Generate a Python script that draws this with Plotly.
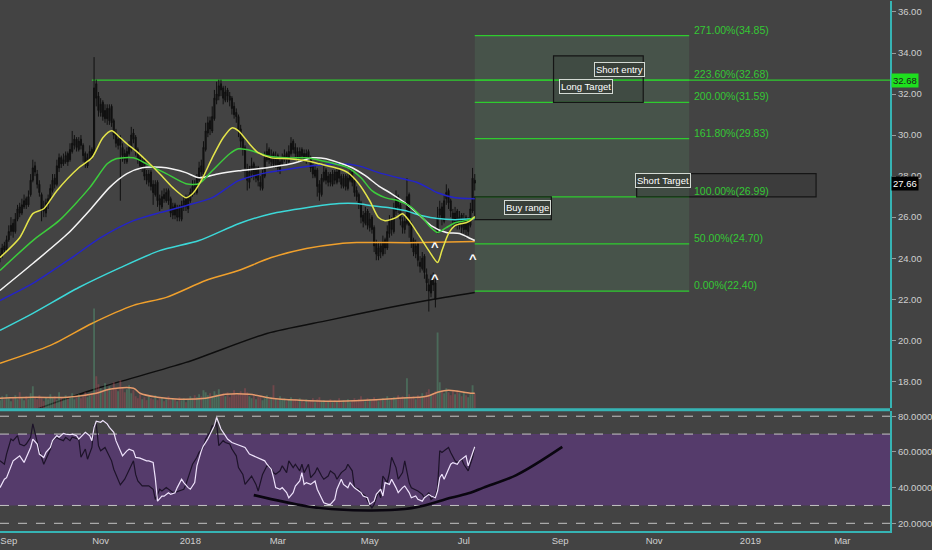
import pandas as pd
import plotly.graph_objects as go

# ---------------- data ----------------
HOLIDAYS = ["2017-09-04", "2017-11-23", "2017-12-25", "2018-01-01", "2018-01-15",
            "2018-02-19", "2018-03-30", "2018-05-28", "2018-07-04"]

OPEN = [
    24.0, 24.2, 24.6, 24.4, 24.9,
    25.3, 25.7, 25.3,
    25.9, 26.5, 26.2,
    26.5, 26.9, 26.6,
    27.1, 27.8, 28.5,
    28.1, 27.6, 27.1,
    26.5, 26.2, 26.6,
    26.9, 27.3, 27.9,
    27.6, 28.4, 28.9,
    28.6, 28.7, 29.1,
    28.8, 29.2, 29.5,
    29.8, 29.3, 29.8,
    29.5, 29.1, 28.5,
    28.9, 29.3,
    29.1,
    32.5, 31.9,
    31.1, 31.6, 30.8,
    31.3, 30.7, 31.4,
    30.7, 30.1,
    29.5, 29.9, 29.4,
    29.1, 28.7, 29.1,
    29.3, 30.1, 29.9,
    29.3, 28.9, 28.4,
    28.8, 28.1, 27.7,
    28.2, 27.6, 27.1,
    27.7, 26.9, 26.5,
    27.1, 26.8, 27.3,
    26.9, 26.1, 26.6,
    26.0, 26.5, 25.9,
    26.5, 26.9, 26.4,
    26.8, 27.1, 27.6,
    27.2, 27.8, 28.5,
    28.1, 29.3, 30.1,
    30.7, 30.2,
    30.8, 31.7,
    31.9, 32.5, 32.3,
    31.7, 32.2, 31.9,
    31.8, 31.4, 31.1,
    30.9, 30.3, 29.8,
    29.4, 28.3, 27.7,
    28.1, 28.6, 27.9,
    28.4, 27.7, 27.4,
    28.0, 28.8, 29.3,
    28.7, 29.1, 28.5,
    29.0, 28.3, 28.6,
    28.8, 29.1, 28.7,
    29.1, 29.7, 29.4,
    29.2, 28.8, 29.3,
    29.1, 28.7, 29.2,
    28.9, 28.5, 28.0,
    28.3, 27.6,
    27.1, 27.8, 28.3,
    27.7, 28.1, 27.6,
    28.2, 27.7, 28.3,
    28.0, 27.5, 28.0,
    27.4, 27.8, 28.2,
    27.8, 27.3, 27.1,
    26.7, 26.1, 25.7,
    26.3, 25.5, 26.0,
    25.5, 24.7, 24.1,
    24.6, 24.2, 24.9,
    24.5, 25.2, 25.9,
    25.3, 26.3, 27.0,
    26.6, 25.8, 25.4,
    25.7, 27.1,
    25.7, 24.9, 24.2,
    24.7, 23.8, 23.5,
    24.1, 23.2, 22.7,
    22.3, 23.0,
    22.8,
    25.3, 26.1, 26.5,
    25.8, 26.9, 27.3,
    26.8, 26.2, 25.7,
    26.3, 25.6, 26.1,
    25.4, 26.0, 25.3,
    25.6, 26.3, 27.8,
]

HIGH = [
    24.5, 24.7, 24.8, 25.1, 25.6,
    26.0, 25.9, 26.2,
    26.6, 26.7, 26.9,
    27.1, 27.0, 27.3,
    28.1, 28.8, 28.7,
    28.3, 27.8, 27.2,
    26.8, 26.9, 27.1,
    27.6, 28.1, 28.1,
    28.8, 29.1, 29.0,
    29.1, 29.2, 29.2,
    29.6, 30.2, 30.0,
    29.9, 29.9, 30.0,
    29.6, 29.2, 29.1,
    29.5, 29.4,
    33.8,
    32.7, 32.1,
    31.8, 31.7, 31.5,
    31.5, 31.5, 31.5,
    30.8, 30.3,
    30.0, 30.0, 29.6,
    29.3, 29.4, 29.7,
    30.4, 30.3, 30.0,
    29.4, 29.1, 28.9,
    28.9, 28.3, 28.3,
    28.3, 27.8, 27.8,
    27.8, 27.1, 27.3,
    27.4, 27.4, 27.4,
    27.0, 26.7, 26.7,
    26.6, 26.6, 26.8,
    27.0, 27.1, 27.1,
    27.4, 27.8, 27.8,
    28.1, 28.7, 28.8,
    29.7, 30.6, 30.9,
    30.9, 31.4,
    32.2, 32.6,
    32.7, 32.7, 32.4,
    32.4, 32.3, 32.1,
    31.9, 31.6, 31.3,
    31.0, 30.5, 30.0,
    29.5, 28.6, 28.5,
    28.9, 28.7, 28.5,
    28.5, 28.0, 28.3,
    29.2, 29.6, 29.4,
    29.3, 29.2, 29.2,
    29.1, 28.9, 29.1,
    29.3, 29.2, 29.5,
    29.9, 29.8, 29.6,
    29.4, 29.4, 29.4,
    29.3, 29.3, 29.3,
    29.0, 28.6, 28.5,
    28.4, 27.8,
    28.1, 28.5, 28.4,
    28.2, 28.2, 28.3,
    28.3, 28.4, 28.4,
    28.1, 28.1, 28.1,
    28.1, 28.4, 28.3,
    27.9, 27.5, 27.2,
    26.8, 26.3, 26.5,
    26.4, 26.2, 26.1,
    25.6, 24.9, 24.8,
    24.8, 25.1, 25.0,
    25.6, 26.1, 26.0,
    26.7, 27.3, 27.1,
    26.7, 26.0, 26.1,
    27.9, 27.2,
    25.8, 25.0, 24.9,
    24.8, 24.1, 24.3,
    24.2, 23.5, 23.0,
    23.2, 23.3,
    23.0,
    26.5, 26.8, 26.7,
    27.1, 27.6, 27.4,
    26.9, 26.4, 26.5,
    26.4, 26.3, 26.2,
    26.2, 26.1, 26.0,
    26.7, 28.4, 28.1,
]

LOW = [
    23.8, 24.0, 24.2, 24.3, 24.8,
    25.1, 25.0, 25.2,
    25.8, 26.0, 26.1,
    26.4, 26.4, 26.5,
    27.0, 27.7, 28.0,
    27.4, 27.0, 25.8,
    26.0, 26.0, 26.4,
    26.8, 27.2, 27.4,
    27.5, 28.2, 28.4,
    28.5, 28.6, 28.5,
    28.7, 29.1, 29.3,
    29.2, 29.2, 29.3,
    28.7, 28.4, 28.4,
    28.8, 28.8,
    29.0,
    31.4, 30.9,
    30.9, 30.7, 30.6,
    30.5, 30.5, 30.4,
    29.8, 29.4,
    29.3, 26.8, 28.7,
    28.6, 28.6, 29.0,
    29.2, 29.6, 29.0,
    28.6, 28.3, 28.2,
    27.8, 27.6, 27.5,
    27.3, 26.6, 27.0,
    26.5, 26.3, 26.4,
    26.7, 26.7, 26.6,
    26.0, 25.9, 25.9,
    25.8, 25.8, 25.8,
    26.3, 26.3, 26.2,
    26.7, 27.0, 27.1,
    27.1, 27.7, 28.0,
    28.0, 29.2, 29.9,
    30.0, 30.1,
    30.7, 31.5,
    31.7, 31.9, 31.5,
    31.6, 31.6, 31.4,
    31.0, 30.8, 30.6,
    29.9, 29.4, 29.0,
    27.9, 27.3, 27.4,
    27.9, 27.8, 27.7,
    27.5, 27.3, 27.3,
    27.9, 28.7, 28.6,
    28.5, 28.4, 28.4,
    28.2, 28.1, 28.5,
    28.7, 28.6, 28.6,
    29.0, 29.1, 28.9,
    28.7, 28.7, 28.8,
    28.7, 28.6, 28.7,
    28.2, 27.9, 27.9,
    27.0, 26.8,
    27.0, 27.7, 27.6,
    27.5, 27.5, 27.5,
    27.6, 27.6, 27.7,
    27.4, 27.4, 27.3,
    27.3, 27.7, 27.5,
    27.0, 26.8, 26.4,
    25.7, 25.5, 25.6,
    25.4, 25.3, 25.2,
    24.3, 23.9, 23.9,
    24.0, 24.1, 24.2,
    24.4, 25.0, 25.1,
    25.2, 26.1, 26.2,
    25.6, 25.2, 25.2,
    25.6, 25.0,
    24.5, 24.1, 24.0,
    23.6, 23.3, 23.4,
    23.0, 22.4, 21.4,
    22.1, 22.4,
    21.6,
    25.2, 25.9, 25.6,
    25.7, 26.6, 26.4,
    26.0, 25.5, 25.5,
    25.4, 25.4, 25.2,
    25.2, 25.0, 25.1,
    25.5, 26.2, 27.3,
]

CLOSE = [
    24.2, 24.5, 24.4, 24.9, 25.3,
    25.6, 25.3, 25.9,
    26.4, 26.2, 26.6,
    26.8, 26.6, 27.0,
    27.8, 28.4, 28.2,
    27.6, 27.2, 26.4,
    26.3, 26.7, 26.9,
    27.4, 27.8, 27.6,
    28.5, 28.9, 28.6,
    28.8, 29.0, 28.7,
    29.3, 29.6, 29.8,
    29.4, 29.7, 29.5,
    29.0, 28.6, 28.9,
    29.2, 29.0,
    32.3,
    31.8, 31.2,
    31.5, 30.9, 31.2,
    30.8, 31.3, 30.6,
    30.0, 29.6,
    29.8, 29.5, 29.0,
    28.8, 29.2, 29.4,
    30.0, 29.8, 29.2,
    28.8, 28.5, 28.7,
    28.0, 27.8, 28.1,
    27.5, 27.2, 27.6,
    26.8, 26.6, 27.0,
    26.9, 27.2, 26.8,
    26.2, 26.5, 26.1,
    26.4, 26.0, 26.6,
    26.8, 26.5, 26.9,
    27.2, 27.5, 27.3,
    27.9, 28.4, 28.2,
    29.4, 30.2, 30.6,
    30.3, 30.9,
    31.8, 32.0,
    32.4, 32.2, 31.8,
    32.1, 31.9, 31.7,
    31.3, 31.0, 30.9,
    30.2, 29.7, 29.3,
    28.4, 27.8, 28.2,
    28.5, 28.0, 28.3,
    27.8, 27.5, 28.1,
    28.9, 29.2, 28.8,
    29.0, 28.6, 28.9,
    28.4, 28.7, 28.9,
    29.0, 28.8, 29.2,
    29.6, 29.3, 29.1,
    28.9, 29.2, 29.0,
    28.8, 29.1, 28.9,
    28.4, 28.1, 28.3,
    27.5, 27.2,
    27.9, 28.2, 27.8,
    28.0, 27.7, 28.1,
    27.8, 28.2, 27.9,
    27.6, 27.9, 27.5,
    27.9, 28.1, 27.7,
    27.2, 27.0, 26.6,
    26.0, 25.8, 26.2,
    25.6, 25.9, 25.4,
    24.6, 24.2, 24.5,
    24.3, 24.8, 24.5,
    25.3, 25.8, 25.4,
    26.4, 26.9, 26.5,
    25.9, 25.5, 25.8,
    27.0, 25.6,
    24.8, 24.3, 24.6,
    23.9, 23.6, 24.0,
    23.3, 22.8, 22.4,
    22.9, 22.7,
    22.0,
    26.0, 26.4, 25.9,
    26.8, 27.2, 26.7,
    26.3, 25.8, 26.2,
    25.7, 26.0, 25.5,
    25.9, 25.4, 25.7,
    26.4, 27.9, 27.66,
]

VOLUME = [
    0.8, 1.2, 0.9, 1.4, 1.0, 0.7, 1.1, 1.3, 0.9, 1.6,
    1.0, 0.8, 1.2, 0.9, 1.5, 2.2, 1.1, 0.9, 1.3, 1.0,
    0.7, 1.1, 0.9, 1.4, 1.0, 1.2, 0.8, 1.6, 1.1, 0.9,
    1.3, 1.0, 1.2, 1.5, 0.9, 1.1, 1.4, 1.0, 1.2, 1.6,
    1.1, 1.3, 1.5, 10.0, 3.2, 2.4, 2.0, 1.7, 2.5, 1.9,
    2.2, 1.8, 2.6, 2.0, 1.7, 2.8, 2.1, 1.6, 1.9, 2.3,
    1.5, 1.8, 1.2, 1.0, 1.4, 0.9, 1.1, 0.8, 1.2, 1.0,
    0.9, 1.3, 0.8, 1.0, 1.1, 0.7, 0.9, 1.2, 0.8, 1.0,
    0.9, 0.7, 1.1, 0.8, 1.0, 0.6, 0.9, 1.2, 1.0, 1.3,
    1.1, 1.4, 1.2, 1.8, 1.6, 1.3, 1.5, 1.2, 1.7, 1.4,
    1.9, 1.3, 1.5, 1.2, 1.6, 1.1, 1.4, 1.8, 1.3, 1.5,
    1.7, 1.4, 2.0, 1.6, 1.2, 1.0, 1.3, 0.9, 1.1, 1.2,
    0.8, 1.0, 1.3, 0.9, 1.1, 2.3, 1.0, 0.8, 1.2, 0.9,
    1.0, 0.7, 0.9, 1.1, 0.8, 0.9, 0.7, 1.0, 0.8, 0.6,
    0.9, 0.7, 0.8, 1.0, 0.6, 0.9, 1.1, 0.7, 0.8, 0.6,
    0.7, 0.9, 0.6, 0.8, 0.7, 1.0, 0.6, 0.8, 0.7, 0.9,
    0.6, 0.8, 1.0, 0.7, 0.9, 1.2, 0.8, 0.7, 1.0, 0.9,
    0.8, 1.1, 0.9, 0.7, 0.8, 1.0, 0.9, 1.2, 0.8, 1.0,
    1.1, 0.9, 1.3, 1.0, 1.2, 1.1, 3.0, 1.4, 1.0, 1.2,
    0.9, 1.3, 1.1, 1.5, 1.2, 1.6, 1.9, 1.3, 1.4, 1.7,
    7.6, 2.6, 1.8, 1.5, 2.0, 1.6, 1.3, 1.7, 1.4, 1.8,
    1.5, 1.2, 1.6, 1.3, 1.1, 1.4, 2.3, 1.5,
]

# moving averages: (bar index, value)
VOL_MA = [(0, 1.0), (15, 1.1), (31, 1.1), (44, 1.5), (50, 1.9), (61, 2.0), (64, 1.5), (72, 1.1),
          (82, 0.9), (94, 1.0), (103, 1.4), (114, 1.4), (124, 1.0), (137, 0.8), (152, 0.7),
          (167, 0.8), (182, 1.0), (195, 1.2), (200, 1.6), (205, 1.8), (215, 1.5), (217, 1.5)]
MA_YELLOW = [(0, 24.03), (9, 25.00), (15, 26.17), (20, 26.41), (26, 27.29), (36, 28.41), (42, 28.89),
             (47, 29.87), (51, 30.21), (55, 29.87), (58, 29.58), (62, 29.24), (67, 28.75), (73, 28.12),
             (79, 27.44), (85, 26.95), (88, 27.14), (92, 27.78), (97, 28.89), (102, 29.87), (106, 30.35),
             (109, 30.21), (114, 29.58), (118, 29.14), (124, 28.89), (132, 28.85), (140, 28.75),
             (146, 28.60), (155, 28.36), (159, 28.17), (164, 27.63), (169, 26.80), (173, 25.98),
             (176, 25.83), (181, 25.98), (184, 26.17), (187, 25.83), (191, 25.20), (196, 24.37),
             (200, 23.79), (202, 24.37), (205, 25.20), (208, 25.59), (213, 25.73), (215, 25.83), (217, 26.03)]
MA_GREEN = [(0, 23.40), (15, 24.86), (27, 25.83), (41, 27.44), (49, 28.60), (53, 28.85), (61, 28.89),
            (67, 28.60), (76, 28.12), (85, 27.63), (91, 27.63), (97, 28.26), (105, 29.09), (109, 29.33),
            (115, 29.24), (122, 28.99), (131, 28.89), (140, 28.89), (147, 28.75), (159, 28.41),
            (165, 27.92), (170, 27.29), (176, 26.95), (182, 26.80), (187, 26.56), (193, 25.98),
            (197, 25.49), (200, 25.25), (204, 25.49), (208, 25.73), (213, 25.83), (217, 25.98)]
MA_WHITE = [(0, 22.43), (15, 23.74), (31, 25.20), (42, 26.46), (50, 27.44), (58, 28.12), (65, 28.41),
            (76, 28.41), (85, 28.17), (91, 27.92), (100, 28.12), (109, 28.26), (122, 28.41), (133, 28.60),
            (143, 28.89), (149, 28.85), (155, 28.65), (161, 28.41), (167, 28.02), (173, 27.53),
            (179, 27.14), (185, 26.71), (191, 26.17), (197, 25.59), (204, 25.25), (210, 25.20),
            (215, 24.96), (217, 24.86)]
MA_BLUE = [(0, 21.94), (15, 22.77), (31, 23.89), (46, 25.00), (61, 25.83), (73, 26.22), (85, 26.56),
           (97, 26.95), (109, 27.78), (122, 28.17), (133, 28.36), (143, 28.50), (155, 28.60), (164, 28.50),
           (173, 28.17), (182, 27.92), (191, 27.68), (200, 27.19), (208, 26.95), (217, 26.90)]
MA_CYAN = [(0, 20.48), (15, 21.31), (36, 22.57), (55, 23.54), (73, 24.37), (91, 24.86), (109, 25.68),
           (124, 26.17), (140, 26.46), (155, 26.66), (163, 26.66), (170, 26.56), (178, 26.46),
           (185, 26.32), (193, 26.07), (200, 25.93), (208, 25.88), (217, 25.93)]
MA_ORANGE = [(0, 18.88), (23, 19.75), (42, 20.82), (61, 21.70), (76, 22.09), (94, 22.91), (109, 23.40),
             (124, 24.03), (140, 24.47), (155, 24.71), (163, 24.76), (178, 24.76), (193, 24.76), (217, 24.81)]
MA_BLACK = [(12, 16.45), (18, 16.69), (46, 17.71), (85, 18.92), (122, 20.33), (150, 20.97),
            (178, 21.60), (195, 21.94), (217, 22.33)]

RSI_WHITE = [(0, 40.0), (2, 44.7), (3, 45.6), (5, 52.2), (6, 55.0), (8, 56.9), (9, 57.8), (11, 54.1),
             (12, 56.9), (14, 62.5), (15, 67.2), (17, 64.4), (18, 58.8), (20, 56.9), (21, 59.7), (23, 62.5),
             (24, 66.3), (26, 69.1), (27, 68.2), (29, 70.4), (30, 70.0), (32, 69.7), (33, 70.0), (35, 69.1),
             (36, 67.2), (38, 70.0), (39, 71.0), (41, 69.1), (42, 66.3), (43, 73.7), (44, 77.2), (46, 76.6),
             (47, 77.6), (49, 75.7), (50, 73.8), (52, 71.0), (53, 66.3), (55, 60.6), (56, 57.8), (58, 60.6),
             (59, 61.5), (61, 60.6), (62, 56.9), (64, 56.5), (65, 56.0), (67, 55.0), (68, 55.0), (70, 54.1),
             (71, 45.0), (72, 32.4), (74, 35.2), (75, 35.2), (77, 37.1), (78, 36.2), (80, 37.1), (81, 40.0),
             (83, 44.7), (84, 42.8), (86, 40.0), (87, 39.1), (89, 42.8), (90, 52.2), (92, 60.6), (93, 63.4),
             (95, 67.2), (96, 70.0), (98, 74.7), (99, 79.4), (101, 72.8), (103, 69.1), (104, 67.2),
             (106, 65.3), (109, 64.0), (112, 62.5), (114, 58.8), (116, 57.8), (118, 56.9), (121, 55.0),
             (122, 53.1), (124, 50.3), (125, 45.6), (126, 40.0), (128, 39.1), (129, 40.0), (131, 37.2),
             (132, 34.3), (134, 37.2), (135, 40.9), (137, 43.7), (138, 48.4), (139, 41.8), (140, 42.8),
             (142, 41.8), (144, 43.7), (145, 39.1), (147, 34.3), (148, 31.5), (150, 30.6), (151, 30.6),
             (153, 33.4), (154, 39.1), (156, 44.7), (157, 41.8), (159, 39.9), (160, 42.8), (162, 39.9),
             (163, 39.1), (165, 37.2), (166, 35.3), (168, 34.3), (169, 30.6), (171, 32.4), (172, 36.2),
             (174, 39.1), (175, 35.3), (176, 42.8), (178, 41.8), (179, 44.7), (181, 40.0), (182, 37.2),
             (184, 40.0), (185, 40.9), (187, 37.2), (188, 34.3), (190, 35.3), (191, 33.4), (193, 32.4),
             (194, 34.3), (196, 36.2), (197, 35.3), (199, 34.3), (200, 38.1), (201, 45.6), (202, 47.5),
             (203, 44.7), (205, 50.3), (206, 53.1), (207, 54.0), (209, 53.1), (210, 55.0), (212, 56.9),
             (213, 57.8), (214, 52.2), (216, 58.8), (217, 62.9)]
RSI_DARK = [(0, 55.0), (2, 53.1), (3, 58.8), (5, 67.2), (6, 66.3), (8, 69.1), (9, 64.4), (11, 63.4),
            (12, 64.4), (14, 68.2), (15, 75.7), (17, 66.3), (18, 60.6), (20, 53.1), (21, 55.9), (23, 61.5),
            (24, 66.3), (26, 68.2), (27, 67.2), (29, 66.3), (30, 68.2), (32, 66.3), (33, 68.2), (36, 67.2),
            (37, 57.0), (39, 61.6), (40, 55.9), (42, 62.5), (43, 74.7), (44, 75.7), (45, 63.5), (46, 60.6),
            (48, 62.5), (49, 59.7), (51, 55.0), (52, 50.3), (54, 44.7), (55, 41.5), (57, 44.7), (58, 47.4),
            (60, 52.2), (61, 55.0), (62, 47.4), (63, 43.7), (65, 41.0), (68, 41.0), (70, 39.1), (71, 33.4),
            (73, 39.1), (74, 38.1), (76, 40.0), (77, 39.1), (79, 37.3), (80, 37.3), (82, 38.1), (84, 39.1),
            (85, 41.8), (87, 50.3), (88, 53.1), (90, 57.0), (91, 59.7), (93, 62.5), (94, 67.2), (96, 71.0),
            (97, 74.7), (98, 73.8), (99, 76.6), (100, 63.5), (102, 66.3), (103, 65.3), (105, 64.4),
            (106, 61.6), (108, 57.8), (109, 51.2), (111, 47.4), (112, 41.8), (114, 44.7), (115, 46.5),
            (117, 41.8), (118, 38.1), (120, 47.4), (122, 52.2), (123, 52.2), (125, 48.4), (126, 47.5),
            (128, 49.4), (129, 52.2), (131, 48.4), (132, 55.0), (134, 51.2), (135, 53.1), (137, 49.4),
            (138, 53.1), (139, 48.4), (141, 53.1), (142, 45.6), (144, 48.4), (145, 51.2), (147, 46.5),
            (148, 44.7), (150, 46.5), (151, 49.4), (153, 47.5), (154, 44.7), (156, 48.4), (158, 50.3),
            (159, 53.1), (161, 49.4), (162, 40.0), (164, 39.1), (165, 37.2), (167, 35.3), (168, 32.4),
            (170, 28.7), (171, 30.6), (173, 38.1), (174, 34.3), (175, 46.5), (177, 42.8), (178, 48.4),
            (179, 57.0), (181, 51.2), (182, 44.7), (184, 48.4), (185, 55.0), (187, 42.8), (188, 39.9),
            (190, 38.9), (191, 38.1), (193, 36.2), (194, 34.3), (196, 37.2), (197, 33.4), (199, 35.3),
            (200, 39.9), (201, 60.6), (202, 59.7), (203, 60.6), (205, 62.5), (206, 59.7), (208, 55.0),
            (209, 54.1), (211, 55.9), (212, 53.1), (214, 49.4), (216, 57.0), (217, 62.9)]
RSI_ARC = [(116, 35.8), (140, 29.6), (155, 27.7), (170, 27.2), (185, 28.0), (194, 30.0), (206, 34.3),
           (215, 37.1), (221, 40.0), (236, 47.0), (257, 62.8)]

# Fibonacci extension
FIB_PCT = [0.0, 50.0, 100.0, 161.8, 200.0, 223.6, 271.0]
FIB_LEVEL = [22.40, 24.70, 26.99, 29.83, 31.59, 32.68, 34.85]
FIB_END = "2018-11-23"
RAY_START_BAR = 42          # horizontal ray at the 223.6% level
RAY_LEVEL = 32.68
LAST_PRICE = 27.66

# drawn boxes: (x0, x1, y0, y1)
BOX_SHORT_ENTRY = ("2018-08-29", "2018-10-25", 31.59, 33.86)
BOX_SHORT_TARGET = ("2018-10-22", "2019-02-13", 26.99, 28.12)
BOX_BUY_END = "2018-08-28"
BOX_BUY_LOW = 25.88
# text boxes: (text, date, price)
TEXT_BOXES = [("Short entry", "2018-10-10", 33.20), ("Long Target", "2018-09-19", 32.35),
              ("Short Target", "2018-11-07", 27.78), ("Buy range", "2018-08-13", 26.46)]
CHEVRONS = [(199, 24.76), (199, 23.20), (216, 24.18)]

TICK_DATES = ["2017-09-01", "2017-11-01", "2018-01-02", "2018-03-01", "2018-05-01", "2018-07-02",
              "2018-09-03", "2018-11-01", "2019-01-02", "2019-03-01"]
TICK_TEXT = ["Sep", "Nov", "2018", "Mar", "May", "Jul", "Sep", "Nov", "2019", "Mar"]
PRICE_TICKS = [18, 20, 22, 24, 26, 28, 30, 32, 34, 36]
RSI_TICKS = [20, 40, 60, 80]
RSI_DASHED = [80, 70, 30, 20]
RSI_BAND = (30, 70)

X_RANGE = ["2017-08-28", "2019-04-01 19:00"]
PRICE_RANGE = [16.687, 36.535]
RSI_RANGE = [15.69, 82.8]
VOL_RANGE = [0, 40.8]

n = len(CLOSE)
assert len(OPEN) == n and len(HIGH) == n and len(LOW) == n and len(VOLUME) == n, (len(OPEN), len(HIGH), len(LOW), len(CLOSE), len(VOLUME))

# ---------------- style ----------------
BG = "#434343"
CYAN_LINE = "#36b4b4"
TXT = "#cfcfcf"
FIB_GREEN = "#2ecc2e"
FONT = "Liberation Sans, Arial, sans-serif"

dates = pd.bdate_range(start="2017-08-28", periods=n, freq="C", holidays=HOLIDAYS)
future = pd.bdate_range(start=dates[-1] + pd.Timedelta(days=1), periods=120)
all_dates = dates.append(future)


def xy(pairs):
    return [all_dates[b] for b, _ in pairs], [v for _, v in pairs]


fig = go.Figure()

# volume (overlay axis)
vcol = ["rgba(90,170,130,0.38)" if c >= o else "rgba(190,80,90,0.38)" for o, c in zip(OPEN, CLOSE)]
fig.add_trace(go.Bar(x=dates, y=VOLUME, marker=dict(color=vcol, line=dict(width=0)),
                     yaxis="y3", xaxis="x", hoverinfo="skip"))
vx, vy = xy(VOL_MA)
fig.add_trace(go.Scatter(x=vx, y=vy, mode="lines", line=dict(color="#e59a6c", width=1.5, shape="spline"),
                         yaxis="y3", xaxis="x", hoverinfo="skip"))

# moving averages
for pairs, col, w in [(MA_BLACK, "#0e0e0e", 1.4), (MA_ORANGE, "#f0a02c", 1.5), (MA_CYAN, "#3cd8d8", 1.5),
                      (MA_BLUE, "#2424c8", 1.5), (MA_WHITE, "#f4f4f4", 1.5), (MA_GREEN, "#3ccc3c", 1.5),
                      (MA_YELLOW, "#e4e44a", 1.5)]:
    mx, my = xy(pairs)
    fig.add_trace(go.Scatter(x=mx, y=my, mode="lines", line=dict(color=col, width=w, shape="spline", smoothing=0.7),
                             yaxis="y", xaxis="x", hoverinfo="skip"))

# candles
fig.add_trace(go.Candlestick(x=dates, open=OPEN, high=HIGH, low=LOW, close=CLOSE,
                             increasing=dict(line=dict(color="#101010", width=1), fillcolor="#1a1a1a"),
                             decreasing=dict(line=dict(color="#101010", width=1), fillcolor="#101010"),
                             whiskerwidth=0, yaxis="y", xaxis="x", hoverinfo="skip"))

# RSI
rx, ry = xy(RSI_DARK)
fig.add_trace(go.Scatter(x=rx, y=ry, mode="lines", line=dict(color="#1d1329", width=1.2),
                         yaxis="y2", xaxis="x", hoverinfo="skip"))
rx, ry = xy(RSI_WHITE)
fig.add_trace(go.Scatter(x=rx, y=ry, mode="lines", line=dict(color="#eee2fb", width=1.2),
                         yaxis="y2", xaxis="x", hoverinfo="skip"))
ax, ay = xy(RSI_ARC)
fig.add_trace(go.Scatter(x=ax, y=ay, mode="lines", line=dict(color="#0a0610", width=2.6, shape="spline"),
                         yaxis="y2", xaxis="x", hoverinfo="skip"))

shapes = []
# RSI band + dashed levels
shapes.append(dict(type="rect", xref="paper", x0=0, x1=1, yref="y2", y0=RSI_BAND[0], y1=RSI_BAND[1],
                   fillcolor="#553b6b", line=dict(width=0), layer="below"))
for lv in RSI_DASHED:
    shapes.append(dict(type="line", xref="paper", x0=0, x1=1, yref="y2", y0=lv, y1=lv,
                       line=dict(color="#c4c4c4", width=1, dash="dash"), layer="below"))
# fib region
fib_start = dates[-1]
shapes.append(dict(type="rect", xref="x", x0=fib_start, x1=FIB_END, yref="y", y0=min(FIB_LEVEL), y1=max(FIB_LEVEL),
                   fillcolor="#47534a", line=dict(width=0), layer="below"))
for lv in FIB_LEVEL:
    shapes.append(dict(type="line", xref="x", x0=fib_start, x1=FIB_END, yref="y", y0=lv, y1=lv,
                       line=dict(color=FIB_GREEN, width=1.3), layer="below"))
shapes.append(dict(type="line", xref="x", x0=dates[RAY_START_BAR], x1=X_RANGE[1], yref="y", y0=RAY_LEVEL, y1=RAY_LEVEL,
                   line=dict(color=FIB_GREEN, width=1.3), layer="below"))
# boxes
for bx0, bx1, by0, by1 in [BOX_SHORT_ENTRY, BOX_SHORT_TARGET, (fib_start, BOX_BUY_END, BOX_BUY_LOW, 26.99)]:
    shapes.append(dict(type="rect", xref="x", x0=bx0, x1=bx1, yref="y", y0=by0, y1=by1,
                       fillcolor="rgba(0,0,0,0.09)", line=dict(color="#151515", width=1.2), layer="below"))
# panel separator
shapes.append(dict(type="line", xref="paper", x0=0, x1=1.0, yref="paper", y0=0.2288, y1=0.2288,
                   line=dict(color=CYAN_LINE, width=3)))

annotations = []
for p, lv in zip(FIB_PCT, FIB_LEVEL):
    annotations.append(dict(x=FIB_END, y=lv, xref="x", yref="y", text=f"{p:.2f}%({lv:.2f})",
                            showarrow=False, xanchor="left", yanchor="bottom", xshift=3, yshift=-2,
                            font=dict(color="#34c834", size=10.5, family=FONT)))
for t, d, pr in TEXT_BOXES:
    annotations.append(dict(x=d, y=pr, xref="x", yref="y", text=t, showarrow=False,
                            font=dict(color="#ffffff", size=9.5, family=FONT),
                            bgcolor="rgba(55,62,57,0.9)", bordercolor="#d4dad4", borderwidth=1, borderpad=1))
for b, pr in CHEVRONS:
    annotations.append(dict(x=all_dates[b], y=pr, xref="x", yref="y", text="<b>^</b>", showarrow=False,
                            yshift=-4, font=dict(color="#ffffff", size=13, family="Liberation Sans")))
annotations.append(dict(x=1, y=RAY_LEVEL, xref="paper", yref="y", text=f"{RAY_LEVEL:.2f}", showarrow=False,
                        xanchor="left", xshift=1, bgcolor="#1ee01e", borderpad=1,
                        font=dict(color="#1a1a1a", size=9.5, family=FONT)))
annotations.append(dict(x=1, y=LAST_PRICE, xref="paper", yref="y", text=f"{LAST_PRICE:.2f}", showarrow=False,
                        xanchor="left", xshift=1, bgcolor="#000000", borderpad=1,
                        font=dict(color="#ffffff", size=9.5, family=FONT)))

axis_font = dict(color=TXT, size=9.5, family=FONT)
fig.update_layout(
    width=932, height=550, margin=dict(l=0, r=39, t=0, b=19),
    paper_bgcolor=BG, plot_bgcolor=BG, showlegend=False,
    font=dict(family=FONT, color=TXT, size=10),
    xaxis=dict(type="date", range=X_RANGE, anchor="y2", domain=[0, 1],
               rangebreaks=[dict(bounds=["sat", "mon"]), dict(values=HOLIDAYS)],
               tickvals=TICK_DATES, ticktext=TICK_TEXT, ticks="", showgrid=False, zeroline=False,
               showline=True, linecolor=CYAN_LINE, linewidth=2, tickfont=axis_font,
               ticklabeloverflow="allow", rangeslider=dict(visible=False), fixedrange=True),
    yaxis=dict(domain=[0.2316, 1], range=PRICE_RANGE, side="right", anchor="x",
               tickvals=PRICE_TICKS, tickformat=".2f", ticks="outside", ticklen=4, tickcolor="#9a9a9a",
               showgrid=False, zeroline=False, showline=True, linecolor=CYAN_LINE, linewidth=2,
               tickfont=axis_font, ticklabeloverflow="allow"),
    yaxis2=dict(domain=[0, 0.226], range=RSI_RANGE, side="right", anchor="x",
                tickvals=RSI_TICKS, tickformat=".4f", ticks="outside", ticklen=4, tickcolor="#9a9a9a",
                showgrid=False, zeroline=False, showline=True, linecolor=CYAN_LINE, linewidth=2,
                tickfont=axis_font, ticklabeloverflow="allow"),
    yaxis3=dict(overlaying="y", range=VOL_RANGE, visible=False, anchor="x"),
    shapes=shapes, annotations=annotations, bargap=0.15,
)

fig.write_html("out.html", config={"displayModeBar": False, "staticPlot": True},
               post_script="document.body.style.margin='0';document.body.style.padding='0';")
